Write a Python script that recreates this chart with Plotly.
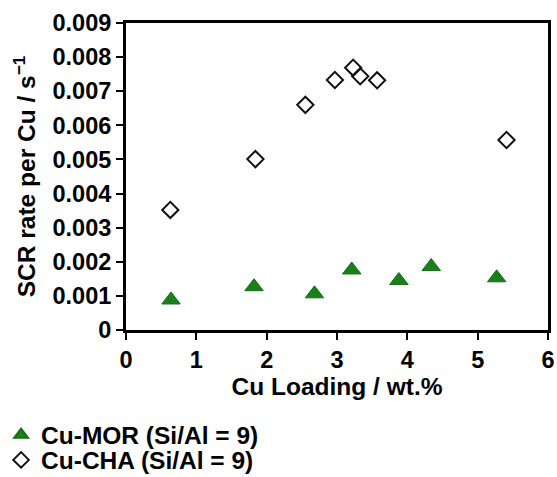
import plotly.graph_objects as go

mor_x = [0.64, 1.82, 2.68, 3.21, 3.88, 4.34, 5.27]
mor_y = [0.00088, 0.00127, 0.00106, 0.00176, 0.00145, 0.00186, 0.00153]

cha_x = [0.63, 1.84, 2.55, 2.97, 3.23, 3.33, 3.57, 5.41]
cha_y = [0.00352, 0.00501, 0.00660, 0.00733, 0.00769, 0.00744, 0.00732, 0.00557]

x_ticks = [0, 1, 2, 3, 4, 5, 6]
y_ticks = [0, 0.001, 0.002, 0.003, 0.004, 0.005, 0.006, 0.007, 0.008, 0.009]
y_ticktext = ["0", "0.001", "0.002", "0.003", "0.004", "0.005", "0.006", "0.007", "0.008", "0.009"]

FONT = "Liberation Sans, Arial, Helvetica, sans-serif"
FT = 23.5   # tick labels
FL = 24.5   # titles and legend

fig = go.Figure()
fig.add_trace(go.Scatter(
    x=mor_x, y=mor_y, mode="markers", name="Cu-MOR (Si/Al = 9)",
    legend="legend",
    marker=dict(symbol="triangle-up", size=16, color="#1a7f1a",
                line=dict(color="#167016", width=1)),
))
fig.add_trace(go.Scatter(
    x=cha_x, y=cha_y, mode="markers", name="Cu-CHA (Si/Al = 9)",
    legend="legend2",
    marker=dict(symbol="diamond-open", size=12.5, color="#111111",
                line=dict(color="#111111", width=2)),
))

leg_common = dict(
    xanchor="left", yanchor="top",
    font=dict(family=FONT, size=FL, color="black", weight="bold"),
    bgcolor="rgba(0,0,0,0)", itemsizing="constant", itemwidth=30,
)

fig.update_layout(
    width=557, height=477,
    margin=dict(l=126, r=9, t=23, b=147, autoexpand=False),
    paper_bgcolor="white", plot_bgcolor="white",
    font=dict(family=FONT, size=FL, color="black", weight="bold"),
    showlegend=True,
    legend=dict(x=-0.296, y=-0.268, **leg_common),
    legend2=dict(x=-0.296, y=-0.350, **leg_common),
)

fig.update_xaxes(
    range=[0, 6], tickvals=x_ticks, ticktext=[str(v) for v in x_ticks],
    showgrid=False, zeroline=False,
    showline=True, linecolor="black", linewidth=3, mirror=True,
    ticks="outside", ticklen=7, tickwidth=2, tickcolor="black",
    tickfont=dict(family=FONT, size=FT, color="black", weight="bold"),
    title=dict(text="Cu Loading / wt.%", standoff=0,
               font=dict(family=FONT, size=FL, color="black", weight="bold")),
)
fig.update_yaxes(
    range=[0, 0.009], tickvals=y_ticks, ticktext=y_ticktext,
    showgrid=False, zeroline=False,
    showline=True, linecolor="black", linewidth=3, mirror=True,
    ticks="outside", ticklen=7, tickwidth=2, tickcolor="black",
    tickfont=dict(family=FONT, size=FT, color="black", weight="bold"),
    title=dict(text="SCR rate per Cu / s<sup>−1</sup>", standoff=10,
               font=dict(family=FONT, size=FL, color="black", weight="bold")),
)

fig.write_html("out.html",
               config={"displayModeBar": False},
               post_script="document.body.style.margin='0';document.body.style.padding='0';")
